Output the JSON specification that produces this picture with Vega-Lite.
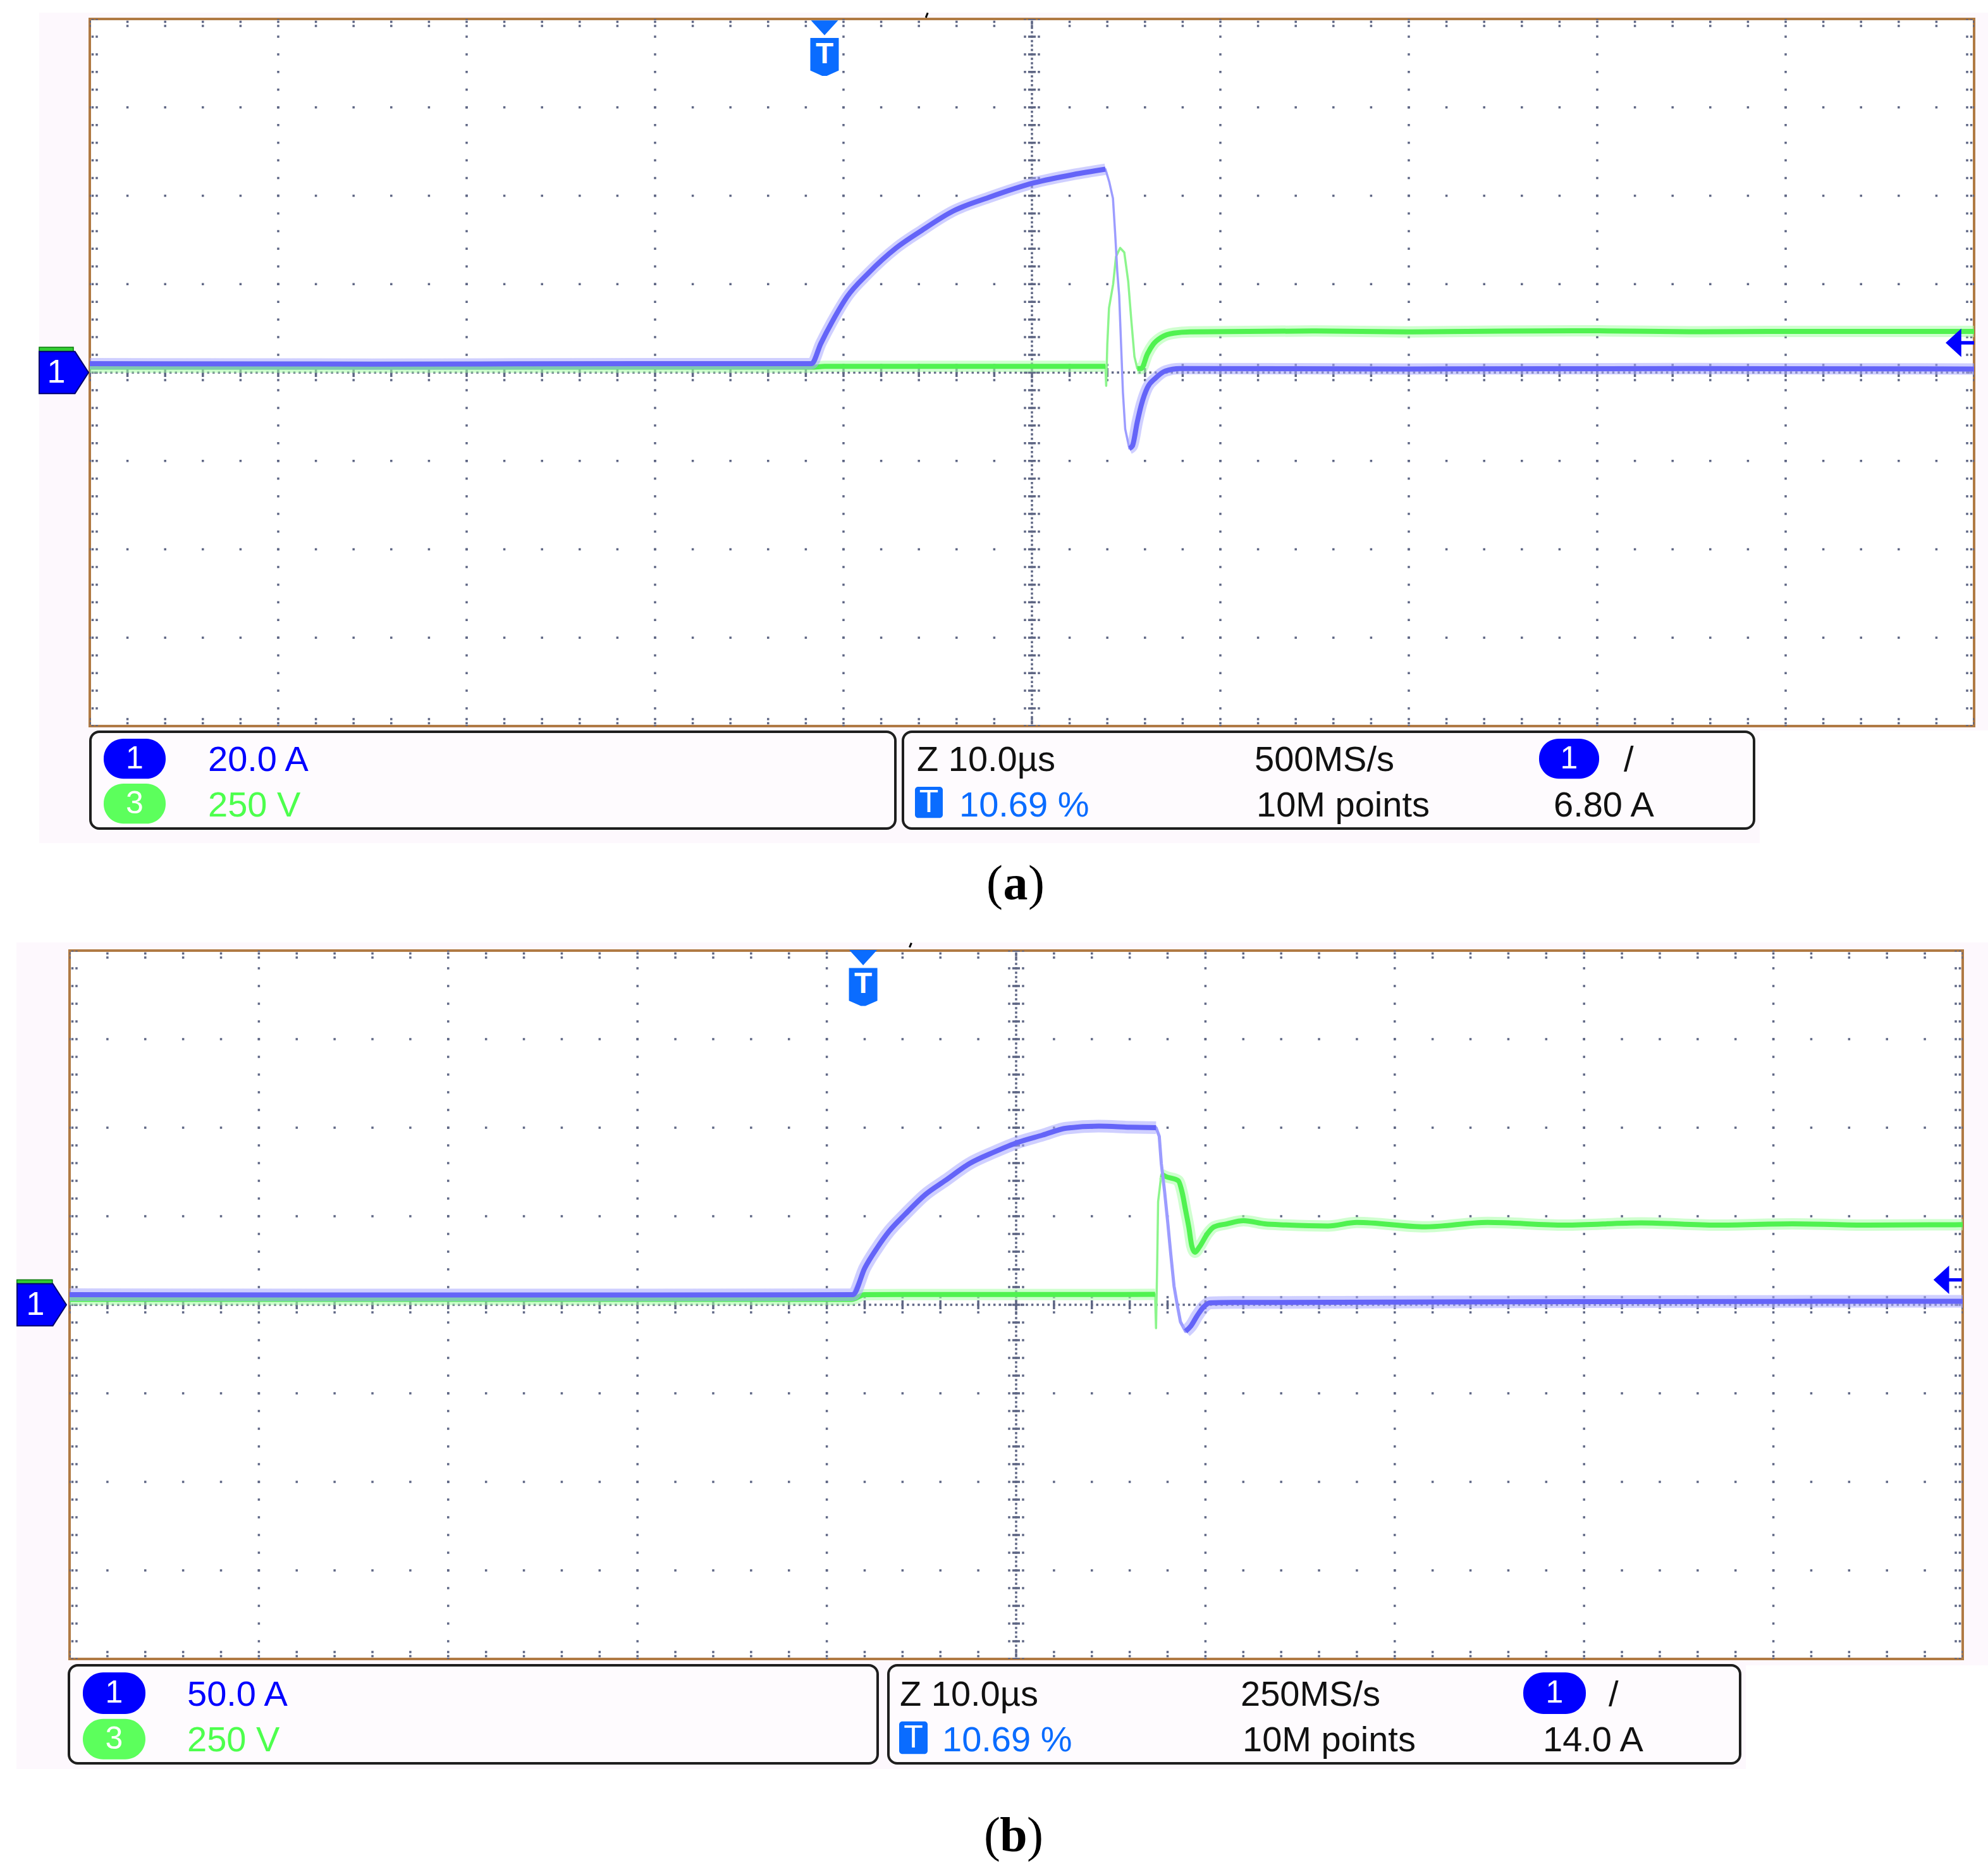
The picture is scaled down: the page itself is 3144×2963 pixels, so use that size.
{
  "$schema": "https://vega.github.io/schema/vega-lite/v6.json",
  "background": "white",
  "padding": 0,
  "spacing": 0,
  "config": {"view": {"stroke": null}, "concat": {"spacing": 0}, "line": {"interpolate": "monotone"}},
  "datasets": {
    "a_blue": [
      {"x": 0, "y": 0.10, "s": 1}, {"x": 1.5, "y": 0.095, "s": 1}, {"x": 3.0, "y": 0.10, "s": 1}, {"x": 3.83, "y": 0.10, "s": 1},
      {"x": 3.88, "y": 0.33, "s": 1}, {"x": 3.94, "y": 0.575, "s": 1}, {"x": 4.02, "y": 0.86, "s": 1}, {"x": 4.13, "y": 1.12, "s": 1},
      {"x": 4.28, "y": 1.41, "s": 1}, {"x": 4.41, "y": 1.60, "s": 1}, {"x": 4.58, "y": 1.825, "s": 1}, {"x": 4.77, "y": 1.98, "s": 1},
      {"x": 5.01, "y": 2.145, "s": 1}, {"x": 5.22, "y": 2.24, "s": 1}, {"x": 5.39, "y": 2.30, "s": 1},
      {"x": 5.41, "y": 2.16, "s": 2}, {"x": 5.43, "y": 1.97, "s": 2}, {"x": 5.442, "y": 1.56, "s": 2}, {"x": 5.453, "y": 1.14, "s": 2},
      {"x": 5.463, "y": 0.87, "s": 2}, {"x": 5.473, "y": 0.32, "s": 2}, {"x": 5.483, "y": -0.23, "s": 2}, {"x": 5.495, "y": -0.64, "s": 2},
      {"x": 5.517, "y": -0.86, "s": 3}, {"x": 5.533, "y": -0.83, "s": 3}, {"x": 5.559, "y": -0.56, "s": 3}, {"x": 5.58, "y": -0.37, "s": 3},
      {"x": 5.613, "y": -0.17, "s": 3}, {"x": 5.655, "y": -0.065, "s": 3}, {"x": 5.709, "y": 0.018, "s": 3}, {"x": 5.784, "y": 0.045, "s": 3},
      {"x": 7.0, "y": 0.04, "s": 3}, {"x": 8.5, "y": 0.045, "s": 3}, {"x": 10, "y": 0.04, "s": 3}
    ],
    "a_green": [
      {"x": 0, "y": 0.06, "s": 1}, {"x": 3.83, "y": 0.06, "s": 1}, {"x": 3.9, "y": 0.07, "s": 1}, {"x": 5.39, "y": 0.07, "s": 1},
      {"x": 5.394, "y": -0.15, "s": 2}, {"x": 5.40, "y": 0.32, "s": 2}, {"x": 5.409, "y": 0.73, "s": 2}, {"x": 5.431, "y": 1.0, "s": 2},
      {"x": 5.446, "y": 1.31, "s": 2}, {"x": 5.468, "y": 1.41, "s": 2}, {"x": 5.49, "y": 1.36, "s": 2}, {"x": 5.511, "y": 1.03, "s": 2},
      {"x": 5.527, "y": 0.6, "s": 2}, {"x": 5.544, "y": 0.18, "s": 2},
      {"x": 5.559, "y": 0.045, "s": 3}, {"x": 5.58, "y": 0.045, "s": 3}, {"x": 5.613, "y": 0.21, "s": 3}, {"x": 5.644, "y": 0.32, "s": 3},
      {"x": 5.688, "y": 0.40, "s": 3}, {"x": 5.752, "y": 0.445, "s": 3}, {"x": 5.84, "y": 0.46, "s": 3}, {"x": 6.5, "y": 0.47, "s": 3},
      {"x": 7.0, "y": 0.46, "s": 3}, {"x": 7.5, "y": 0.468, "s": 3}, {"x": 8.0, "y": 0.472, "s": 3}, {"x": 8.5, "y": 0.462, "s": 3},
      {"x": 9.0, "y": 0.466, "s": 3}, {"x": 10, "y": 0.466, "s": 3}
    ],
    "b_blue": [
      {"x": 0, "y": 0.114, "s": 1}, {"x": 2, "y": 0.11, "s": 1}, {"x": 4.137, "y": 0.114, "s": 1}, {"x": 4.201, "y": 0.417, "s": 1},
      {"x": 4.265, "y": 0.64, "s": 1}, {"x": 4.329, "y": 0.83, "s": 1}, {"x": 4.414, "y": 1.023, "s": 1}, {"x": 4.521, "y": 1.246, "s": 1},
      {"x": 4.627, "y": 1.405, "s": 1}, {"x": 4.755, "y": 1.596, "s": 1}, {"x": 4.883, "y": 1.724, "s": 1}, {"x": 5.011, "y": 1.836, "s": 1},
      {"x": 5.139, "y": 1.916, "s": 1}, {"x": 5.266, "y": 1.995, "s": 1}, {"x": 5.437, "y": 2.018, "s": 1}, {"x": 5.607, "y": 2.005, "s": 1},
      {"x": 5.739, "y": 2.0, "s": 1},
      {"x": 5.756, "y": 1.902, "s": 2}, {"x": 5.767, "y": 1.593, "s": 2}, {"x": 5.784, "y": 1.283, "s": 2}, {"x": 5.801, "y": 0.926, "s": 2},
      {"x": 5.817, "y": 0.569, "s": 2}, {"x": 5.834, "y": 0.212, "s": 2}, {"x": 5.851, "y": 0.0, "s": 2}, {"x": 5.868, "y": -0.193, "s": 2},
      {"x": 5.895, "y": -0.3, "s": 3}, {"x": 5.923, "y": -0.24, "s": 3}, {"x": 5.957, "y": -0.121, "s": 3}, {"x": 5.99, "y": -0.026, "s": 3},
      {"x": 6.023, "y": 0.021, "s": 3}, {"x": 6.146, "y": 0.026, "s": 3}, {"x": 8, "y": 0.035, "s": 3}, {"x": 10, "y": 0.04, "s": 3}
    ],
    "b_green": [
      {"x": 0, "y": 0.06, "s": 1}, {"x": 4.13, "y": 0.06, "s": 1}, {"x": 4.2, "y": 0.115, "s": 1}, {"x": 5.734, "y": 0.117, "s": 1},
      {"x": 5.739, "y": -0.264, "s": 2}, {"x": 5.745, "y": 0.45, "s": 2}, {"x": 5.75, "y": 1.164, "s": 2},
      {"x": 5.767, "y": 1.474, "s": 3}, {"x": 5.789, "y": 1.45, "s": 3}, {"x": 5.856, "y": 1.402, "s": 3}, {"x": 5.878, "y": 1.26, "s": 3},
      {"x": 5.895, "y": 1.069, "s": 3}, {"x": 5.912, "y": 0.879, "s": 3}, {"x": 5.928, "y": 0.664, "s": 3}, {"x": 5.945, "y": 0.593, "s": 3},
      {"x": 5.968, "y": 0.652, "s": 3}, {"x": 6.012, "y": 0.807, "s": 3}, {"x": 6.045, "y": 0.879, "s": 3}, {"x": 6.112, "y": 0.914, "s": 3},
      {"x": 6.201, "y": 0.95, "s": 3}, {"x": 6.313, "y": 0.914, "s": 3}, {"x": 6.424, "y": 0.902, "s": 3}, {"x": 6.647, "y": 0.89, "s": 3},
      {"x": 6.8, "y": 0.93, "s": 3}, {"x": 7.16, "y": 0.88, "s": 3}, {"x": 7.49, "y": 0.93, "s": 3}, {"x": 7.9, "y": 0.9, "s": 3},
      {"x": 8.3, "y": 0.925, "s": 3}, {"x": 8.7, "y": 0.9, "s": 3}, {"x": 9.1, "y": 0.915, "s": 3}, {"x": 9.5, "y": 0.9, "s": 3},
      {"x": 10, "y": 0.905, "s": 3}
    ]
  },
  "vconcat": [
    {
      "width": 3144,
      "height": 1450,
      "encoding": {
        "x": {"field": "x", "type": "quantitative", "scale": {"domain": [-0.47651, 10.073826], "nice": false, "zero": false}, "axis": null},
        "y": {"field": "y", "type": "quantitative", "scale": {"domain": [-6.161002, 4.214669], "nice": false, "zero": false}, "axis": null}
      },
      "layer": [
        {"data": {"values": [{"x": -0.2685, "x2": 10.0738, "y": 4.0716, "y2": -4.05}, {"x": -0.2685, "x2": 8.8624, "y": -4.05, "y2": -5.3238}]},
         "mark": {"type": "rect", "color": "#fdf8fd"}, "encoding": {"x2": {"field": "x2"}, "y2": {"field": "y2"}}},
        {"data": {"values": [{"x": 0.0034, "x2": 4.2752, "y": -4.0644, "y2": -5.1592}, {"x": 4.3154, "x2": 8.8322, "y": -4.0644, "y2": -5.1592}]},
         "mark": {"type": "rect", "fill": "#fefbfe", "stroke": "#1e1e1e", "strokeWidth": 4, "cornerRadius": 14}, "encoding": {"x2": {"field": "x2"}, "y2": {"field": "y2"}}},
        {"data": {"values": [{"x": 0, "x2": 10, "y": -4, "y2": 4}]},
         "mark": {"type": "rect", "fill": "white", "stroke": "#b07a44", "strokeWidth": 4}, "encoding": {"x2": {"field": "x2"}, "y2": {"field": "y2"}}},
        {"data": {"values": [
          {"x": 1, "y": -4, "y2": 4}, {"x": 2, "y": -4, "y2": 4}, {"x": 3, "y": -4, "y2": 4}, {"x": 4, "y": -4, "y2": 4},
          {"x": 6, "y": -4, "y2": 4}, {"x": 7, "y": -4, "y2": 4}, {"x": 8, "y": -4, "y2": 4}, {"x": 9, "y": -4, "y2": 4},
          {"x": 4.96309, "y": -4, "y2": 4}, {"x": 5.03691, "y": -4, "y2": 4},
          {"x": 0.0151, "y": -4, "y2": 4}, {"x": 0.0369, "y": -4, "y2": 4}, {"x": 9.9849, "y": -4, "y2": 4}, {"x": 9.9631, "y": -4, "y2": 4}]},
         "mark": {"type": "rule", "color": "#5e6684", "strokeWidth": 3.5, "strokeDash": [3.5, 24.45], "strokeDashOffset": 1.75},
         "encoding": {"y2": {"field": "y2"}}},
        {"data": {"values": [
          {"x": 0, "x2": 10, "y": -3}, {"x": 0, "x2": 10, "y": -2}, {"x": 0, "x2": 10, "y": -1},
          {"x": 0, "x2": 10, "y": 1}, {"x": 0, "x2": 10, "y": 2}, {"x": 0, "x2": 10, "y": 3},
          {"x": 0, "x2": 10, "y": 0.0859}, {"x": 0, "x2": 10, "y": -0.0859},
          {"x": 0, "x2": 10, "y": 3.9678}, {"x": 0, "x2": 10, "y": 3.9213}, {"x": 0, "x2": 10, "y": -3.9678}, {"x": 0, "x2": 10, "y": -3.9213}]},
         "mark": {"type": "rule", "color": "#5e6684", "strokeWidth": 3.5, "strokeDash": [3.5, 56.1], "strokeDashOffset": 1.75},
         "encoding": {"x2": {"field": "x2"}}},
        {"data": {"values": [{"x": 5, "y": -4, "y2": 4}]},
         "mark": {"type": "rule", "color": "#5e6684", "strokeWidth": 3.5, "strokeDash": [3.5, 3.4875], "strokeDashOffset": 1.75},
         "encoding": {"y2": {"field": "y2"}}},
        {"data": {"values": [{"x": 5, "y": -4, "y2": 4}]},
         "mark": {"type": "rule", "color": "#5e6684", "strokeWidth": 12, "strokeDash": [3.5, 24.45], "strokeDashOffset": 1.75},
         "encoding": {"y2": {"field": "y2"}}},
        {"data": {"values": [{"x": 0, "x2": 10, "y": 0}]},
         "mark": {"type": "rule", "color": "#5e6684", "strokeWidth": 3.5, "strokeDash": [3.5, 5.014], "strokeDashOffset": 1.75},
         "encoding": {"x2": {"field": "x2"}}},
        {"data": {"values": [{"x": 0, "x2": 10, "y": 0}]},
         "mark": {"type": "rule", "color": "#5e6684", "strokeWidth": 14, "strokeDash": [3.5, 56.1], "strokeDashOffset": 1.75},
         "encoding": {"x2": {"field": "x2"}}},
        {"data": {"name": "a_green"}, "mark": {"type": "line", "color": "#8cf58c", "strokeWidth": 3.5, "strokeJoin": "round", "interpolate": "linear"}, "encoding": {}},
        {"data": {"name": "a_green"}, "transform": [{"filter": "datum.s != 2"}],
         "mark": {"type": "line", "color": "#a8ffa8", "strokeWidth": 18, "opacity": 0.55, "strokeJoin": "round"}, "encoding": {"detail": {"field": "s"}}},
        {"data": {"name": "a_green"}, "transform": [{"filter": "datum.s != 2"}],
         "mark": {"type": "line", "color": "#50f250", "strokeWidth": 8, "strokeJoin": "round"}, "encoding": {"detail": {"field": "s"}}},
        {"data": {"name": "a_blue"}, "mark": {"type": "line", "color": "#9c9cff", "strokeWidth": 3.5, "strokeJoin": "round", "interpolate": "linear"}, "encoding": {}},
        {"data": {"name": "a_blue"}, "transform": [{"filter": "datum.s != 2"}],
         "mark": {"type": "line", "color": "#a8a8ff", "strokeWidth": 18, "opacity": 0.55, "strokeJoin": "round"}, "encoding": {"detail": {"field": "s"}}},
        {"data": {"name": "a_blue"}, "transform": [{"filter": "datum.s != 2"}],
         "mark": {"type": "line", "color": "#6464f8", "strokeWidth": 8, "strokeJoin": "round"}, "encoding": {"detail": {"field": "s"}}},
        {"data": {"values": [{"x": -0.2685, "x2": -0.0872, "y": 0.2862, "y2": 0.2361}]},
         "mark": {"type": "rect", "fill": "#33cc33", "stroke": "#0a7a0a", "strokeWidth": 1.5}, "encoding": {"x2": {"field": "x2"}, "y2": {"field": "y2"}}},
        {"data": {"values": [{"x": -0.1376, "y": 0}]},
         "mark": {"type": "point", "shape": "M-1,-0.85 L0.45,-0.85 L1,0 L0.45,0.85 L-1,0.85 Z", "size": 6084, "filled": true, "fill": "#0000ff", "stroke": "#00006e", "strokeWidth": 2, "opacity": 1}},
        {"data": {"values": [{"x": -0.1779, "y": 0, "t": "1"}]},
         "mark": {"type": "text", "font": "Liberation Sans", "fontSize": 52, "color": "white", "align": "center", "baseline": "middle"}, "encoding": {"text": {"field": "t"}}},
        {"data": {"values": [{"x": 3.8993, "y": 3.8998}]},
         "mark": {"type": "point", "shape": "M-1,-0.55 L1,-0.55 L0,0.55 Z", "size": 1849, "filled": true, "fill": "#0a6cff", "opacity": 1}},
        {"data": {"values": [{"x": 3.8993, "y": 3.5707}]},
         "mark": {"type": "point", "shape": "M-0.75,-1 L0.75,-1 L0.75,0.72 L0.12,1 L-0.12,1 L-0.75,0.72 Z", "size": 3600, "filled": true, "fill": "#0a6cff", "opacity": 1}},
        {"data": {"values": [{"x": 3.8993, "y": 3.6, "t": "T"}]},
         "mark": {"type": "text", "font": "Liberation Sans", "fontSize": 46, "fontWeight": "bold", "color": "white", "align": "center", "baseline": "middle"}, "encoding": {"text": {"field": "t"}}},
        {"data": {"values": [{"x": 9.9245, "y": 0.3363}]},
         "mark": {"type": "point", "shape": "M-1,0 L0.1,-1 L0.1,-0.12 L1,-0.12 L1,0.12 L0.1,0.12 L0.1,1 Z", "size": 2025, "filled": true, "fill": "#0000ff", "opacity": 1}},
        {"data": {"values": [{"x": 4.437, "x2": 4.447, "y": 4.015, "y2": 4.07}]},
         "mark": {"type": "rule", "color": "black", "strokeWidth": 3}, "encoding": {"x2": {"field": "x2"}, "y2": {"field": "y2"}}},
        {"data": {"values": [{"x": 0.0738, "x2": 0.4027, "y": -4.1431, "y2": -4.5966}, {"x": 7.6913, "x2": 8.0101, "y": -4.1431, "y2": -4.5966}]},
         "mark": {"type": "rect", "fill": "#0000ff", "cornerRadius": 31}, "encoding": {"x2": {"field": "x2"}, "y2": {"field": "y2"}}},
        {"data": {"values": [{"x": 0.0738, "x2": 0.4027, "y": -4.6512, "y2": -5.1041}]},
         "mark": {"type": "rect", "fill": "#5cff5c", "cornerRadius": 31}, "encoding": {"x2": {"field": "x2"}, "y2": {"field": "y2"}}},
        {"data": {"values": [{"x": 4.3792, "x2": 4.5268, "y": -4.687, "y2": -5.04}]},
         "mark": {"type": "rect", "fill": "#0a6cff", "cornerRadius": 5}, "encoding": {"x2": {"field": "x2"}, "y2": {"field": "y2"}}},
        {"data": {"values": [{"x": 0.2383, "y": -4.37, "t": "1"}, {"x": 0.2383, "y": -4.878, "t": "3"}, {"x": 7.8507, "y": -4.37, "t": "1"}, {"x": 4.453, "y": -4.864, "t": "T"}]},
         "mark": {"type": "text", "font": "Liberation Sans", "fontSize": 50, "color": "white", "align": "center", "baseline": "middle"}, "encoding": {"text": {"field": "t"}}},
        {"data": {"values": [{"x": 0.6275, "y": -4.508, "t": "20.0 A"}]},
         "mark": {"type": "text", "font": "Liberation Sans", "fontSize": 56, "color": "#0000ff", "align": "left", "baseline": "alphabetic"}, "encoding": {"text": {"field": "t"}}},
        {"data": {"values": [{"x": 0.6275, "y": -5.02, "t": "250 V"}]},
         "mark": {"type": "text", "font": "Liberation Sans", "fontSize": 56, "color": "#4dff4d", "align": "left", "baseline": "alphabetic"}, "encoding": {"text": {"field": "t"}}},
        {"data": {"values": [{"x": 4.6141, "y": -5.02, "t": "10.69 %"}]},
         "mark": {"type": "text", "font": "Liberation Sans", "fontSize": 56, "color": "#0a6cff", "align": "left", "baseline": "alphabetic"}, "encoding": {"text": {"field": "t"}}},
        {"data": {"values": [
          {"x": 4.3893, "y": -4.508, "t": "Z 10.0µs"}, {"x": 6.1812, "y": -4.508, "t": "500MS/s"}, {"x": 8.141, "y": -4.508, "t": "/"},
          {"x": 6.1913, "y": -5.02, "t": "10M points"}, {"x": 7.7685, "y": -5.02, "t": "6.80 A"}]},
         "mark": {"type": "text", "font": "Liberation Sans", "fontSize": 56, "color": "#111111", "align": "left", "baseline": "alphabetic"}, "encoding": {"text": {"field": "t"}}},
        {"data": {"values": [{"x": 4.9128, "y": -5.9606, "t": "("}]},
         "mark": {"type": "text", "font": "Liberation Serif", "fontSize": 78, "color": "black", "align": "right", "dx": -20, "baseline": "alphabetic"}, "encoding": {"text": {"field": "t"}}},
        {"data": {"values": [{"x": 4.9128, "y": -5.9606, "t": "a"}]},
         "mark": {"type": "text", "font": "Liberation Serif", "fontSize": 78, "fontWeight": "bold", "color": "black", "align": "center", "baseline": "alphabetic"}, "encoding": {"text": {"field": "t"}}},
        {"data": {"values": [{"x": 4.9128, "y": -5.9606, "t": ")"}]},
         "mark": {"type": "text", "font": "Liberation Serif", "fontSize": 78, "color": "black", "align": "left", "dx": 20, "baseline": "alphabetic"}, "encoding": {"text": {"field": "t"}}}
      ]
    },
    {
      "width": 3144,
      "height": 1513,
      "encoding": {
        "x": {"field": "x", "type": "quantitative", "scale": {"domain": [-0.367402, 10.133601], "nice": false, "zero": false}, "axis": null},
        "y": {"field": "y", "type": "quantitative", "scale": {"domain": [-6.428571, 4.378571], "nice": false, "zero": false}, "axis": null}
      },
      "layer": [
        {"data": {"values": [{"x": -0.2806, "x2": 10.1336, "y": 4.0929, "y2": -4.0714}, {"x": -0.2806, "x2": 8.8544, "y": -4.0714, "y2": -5.2429}]},
         "mark": {"type": "rect", "color": "#fdf8fd"}, "encoding": {"x2": {"field": "x2"}, "y2": {"field": "y2"}}},
        {"data": {"values": [{"x": -0.0033, "x2": 4.2685, "y": -4.0714, "y2": -5.1786}, {"x": 4.3253, "x2": 8.8243, "y": -4.0714, "y2": -5.1786}]},
         "mark": {"type": "rect", "fill": "#fefbfe", "stroke": "#1e1e1e", "strokeWidth": 4, "cornerRadius": 14}, "encoding": {"x2": {"field": "x2"}, "y2": {"field": "y2"}}},
        {"data": {"values": [{"x": 0, "x2": 10, "y": -4, "y2": 4}]},
         "mark": {"type": "rect", "fill": "white", "stroke": "#b07a44", "strokeWidth": 4}, "encoding": {"x2": {"field": "x2"}, "y2": {"field": "y2"}}},
        {"data": {"values": [
          {"x": 1, "y": -4, "y2": 4}, {"x": 2, "y": -4, "y2": 4}, {"x": 3, "y": -4, "y2": 4}, {"x": 4, "y": -4, "y2": 4},
          {"x": 6, "y": -4, "y2": 4}, {"x": 7, "y": -4, "y2": 4}, {"x": 8, "y": -4, "y2": 4}, {"x": 9, "y": -4, "y2": 4},
          {"x": 4.9633, "y": -4, "y2": 4}, {"x": 5.0367, "y": -4, "y2": 4},
          {"x": 0.015, "y": -4, "y2": 4}, {"x": 0.0367, "y": -4, "y2": 4}, {"x": 9.985, "y": -4, "y2": 4}, {"x": 9.9633, "y": -4, "y2": 4}]},
         "mark": {"type": "rule", "color": "#5e6684", "strokeWidth": 3.5, "strokeDash": [3.5, 24.5], "strokeDashOffset": 1.75},
         "encoding": {"y2": {"field": "y2"}}},
        {"data": {"values": [
          {"x": 0, "x2": 10, "y": -3}, {"x": 0, "x2": 10, "y": -2}, {"x": 0, "x2": 10, "y": -1},
          {"x": 0, "x2": 10, "y": 1}, {"x": 0, "x2": 10, "y": 2}, {"x": 0, "x2": 10, "y": 3},
          {"x": 0, "x2": 10, "y": 0.0857}, {"x": 0, "x2": 10, "y": -0.0857},
          {"x": 0, "x2": 10, "y": 3.9679}, {"x": 0, "x2": 10, "y": 3.9214}, {"x": 0, "x2": 10, "y": -3.9679}, {"x": 0, "x2": 10, "y": -3.9214}]},
         "mark": {"type": "rule", "color": "#5e6684", "strokeWidth": 3.5, "strokeDash": [3.5, 56.38], "strokeDashOffset": 1.75},
         "encoding": {"x2": {"field": "x2"}}},
        {"data": {"values": [{"x": 5, "y": -4, "y2": 4}]},
         "mark": {"type": "rule", "color": "#5e6684", "strokeWidth": 3.5, "strokeDash": [3.5, 3.5], "strokeDashOffset": 1.75},
         "encoding": {"y2": {"field": "y2"}}},
        {"data": {"values": [{"x": 5, "y": -4, "y2": 4}]},
         "mark": {"type": "rule", "color": "#5e6684", "strokeWidth": 12, "strokeDash": [3.5, 24.5], "strokeDashOffset": 1.75},
         "encoding": {"y2": {"field": "y2"}}},
        {"data": {"values": [{"x": 0, "x2": 10, "y": 0}]},
         "mark": {"type": "rule", "color": "#5e6684", "strokeWidth": 3.5, "strokeDash": [3.5, 5.054], "strokeDashOffset": 1.75},
         "encoding": {"x2": {"field": "x2"}}},
        {"data": {"values": [{"x": 0, "x2": 10, "y": 0}]},
         "mark": {"type": "rule", "color": "#5e6684", "strokeWidth": 14, "strokeDash": [3.5, 56.38], "strokeDashOffset": 1.75},
         "encoding": {"x2": {"field": "x2"}}},
        {"data": {"name": "b_green"}, "mark": {"type": "line", "color": "#8cf58c", "strokeWidth": 3.5, "strokeJoin": "round", "interpolate": "linear"}, "encoding": {}},
        {"data": {"name": "b_green"}, "transform": [{"filter": "datum.s != 2"}],
         "mark": {"type": "line", "color": "#a8ffa8", "strokeWidth": 18, "opacity": 0.55, "strokeJoin": "round"}, "encoding": {"detail": {"field": "s"}}},
        {"data": {"name": "b_green"}, "transform": [{"filter": "datum.s != 2"}],
         "mark": {"type": "line", "color": "#50f250", "strokeWidth": 8, "strokeJoin": "round"}, "encoding": {"detail": {"field": "s"}}},
        {"data": {"name": "b_blue"}, "mark": {"type": "line", "color": "#9c9cff", "strokeWidth": 5, "strokeJoin": "round", "interpolate": "linear"}, "encoding": {}},
        {"data": {"name": "b_blue"}, "transform": [{"filter": "datum.s != 2"}],
         "mark": {"type": "line", "color": "#a8a8ff", "strokeWidth": 20, "opacity": 0.55, "strokeJoin": "round"}, "encoding": {"detail": {"field": "s"}}},
        {"data": {"name": "b_blue"}, "transform": [{"filter": "datum.s != 2"}],
         "mark": {"type": "line", "color": "#6464f8", "strokeWidth": 8, "strokeJoin": "round"}, "encoding": {"detail": {"field": "s"}}},
        {"data": {"values": [{"x": -0.2782, "x2": -0.0908, "y": 0.2829, "y2": 0.2321}]},
         "mark": {"type": "rect", "fill": "#33cc33", "stroke": "#0a7a0a", "strokeWidth": 1.5}, "encoding": {"x2": {"field": "x2"}, "y2": {"field": "y2"}}},
        {"data": {"values": [{"x": -0.147, "y": 0}]},
         "mark": {"type": "point", "shape": "M-1,-0.85 L0.45,-0.85 L1,0 L0.45,0.85 L-1,0.85 Z", "size": 6084, "filled": true, "fill": "#0000ff", "stroke": "#00006e", "strokeWidth": 2, "opacity": 1}},
        {"data": {"values": [{"x": -0.1804, "y": 0, "t": "1"}]},
         "mark": {"type": "text", "font": "Liberation Sans", "fontSize": 52, "color": "white", "align": "center", "baseline": "middle"}, "encoding": {"text": {"field": "t"}}},
        {"data": {"values": [{"x": 4.192, "y": 3.921}]},
         "mark": {"type": "point", "shape": "M-1,-0.55 L1,-0.55 L0,0.55 Z", "size": 1936, "filled": true, "fill": "#0a6cff", "opacity": 1}},
        {"data": {"values": [{"x": 4.192, "y": 3.589}]},
         "mark": {"type": "point", "shape": "M-0.75,-1 L0.75,-1 L0.75,0.72 L0.12,1 L-0.12,1 L-0.75,0.72 Z", "size": 3600, "filled": true, "fill": "#0a6cff", "opacity": 1}},
        {"data": {"values": [{"x": 4.192, "y": 3.62, "t": "T"}]},
         "mark": {"type": "text", "font": "Liberation Sans", "fontSize": 46, "fontWeight": "bold", "color": "white", "align": "center", "baseline": "middle"}, "encoding": {"text": {"field": "t"}}},
        {"data": {"values": [{"x": 9.9208, "y": 0.2814}]},
         "mark": {"type": "point", "shape": "M-1,0 L0.1,-1 L0.1,-0.12 L1,-0.12 L1,0.12 L0.1,0.12 L0.1,1 Z", "size": 2025, "filled": true, "fill": "#0000ff", "opacity": 1}},
        {"data": {"values": [{"x": 4.437, "x2": 4.447, "y": 4.036, "y2": 4.086}]},
         "mark": {"type": "rule", "color": "black", "strokeWidth": 3}, "encoding": {"x2": {"field": "x2"}, "y2": {"field": "y2"}}},
        {"data": {"values": [{"x": 0.0701, "x2": 0.4008, "y": -4.152, "y2": -4.621}, {"x": 7.6787, "x2": 8.0094, "y": -4.152, "y2": -4.621}]},
         "mark": {"type": "rect", "fill": "#0000ff", "cornerRadius": 32}, "encoding": {"x2": {"field": "x2"}, "y2": {"field": "y2"}}},
        {"data": {"values": [{"x": 0.0701, "x2": 0.4008, "y": -4.676, "y2": -5.134}]},
         "mark": {"type": "rect", "fill": "#5cff5c", "cornerRadius": 32}, "encoding": {"x2": {"field": "x2"}, "y2": {"field": "y2"}}},
        {"data": {"values": [{"x": 4.3821, "x2": 4.5324, "y": -4.705, "y2": -5.074}]},
         "mark": {"type": "rect", "fill": "#0a6cff", "cornerRadius": 5}, "encoding": {"x2": {"field": "x2"}, "y2": {"field": "y2"}}},
        {"data": {"values": [{"x": 0.2355, "y": -4.3865, "t": "1"}, {"x": 0.2355, "y": -4.905, "t": "3"}, {"x": 7.844, "y": -4.3865, "t": "1"}, {"x": 4.457, "y": -4.89, "t": "T"}]},
         "mark": {"type": "text", "font": "Liberation Sans", "fontSize": 50, "color": "white", "align": "center", "baseline": "middle"}, "encoding": {"text": {"field": "t"}}},
        {"data": {"values": [{"x": 0.6212, "y": -4.531, "t": "50.0 A"}]},
         "mark": {"type": "text", "font": "Liberation Sans", "fontSize": 56, "color": "#0000ff", "align": "left", "baseline": "alphabetic"}, "encoding": {"text": {"field": "t"}}},
        {"data": {"values": [{"x": 0.6212, "y": -5.045, "t": "250 V"}]},
         "mark": {"type": "text", "font": "Liberation Sans", "fontSize": 56, "color": "#4dff4d", "align": "left", "baseline": "alphabetic"}, "encoding": {"text": {"field": "t"}}},
        {"data": {"values": [{"x": 4.6092, "y": -5.045, "t": "10.69 %"}]},
         "mark": {"type": "text", "font": "Liberation Sans", "fontSize": 56, "color": "#0a6cff", "align": "left", "baseline": "alphabetic"}, "encoding": {"text": {"field": "t"}}},
        {"data": {"values": [
          {"x": 4.3854, "y": -4.531, "t": "Z 10.0µs"}, {"x": 6.1857, "y": -4.531, "t": "250MS/s"}, {"x": 8.1296, "y": -4.531, "t": "/"},
          {"x": 6.1957, "y": -5.045, "t": "10M points"}, {"x": 7.7823, "y": -5.045, "t": "14.0 A"}]},
         "mark": {"type": "text", "font": "Liberation Sans", "fontSize": 56, "color": "#111111", "align": "left", "baseline": "alphabetic"}, "encoding": {"text": {"field": "t"}}},
        {"data": {"values": [{"x": 4.9866, "y": -6.171, "t": "("}]},
         "mark": {"type": "text", "font": "Liberation Serif", "fontSize": 78, "color": "black", "align": "right", "dx": -21, "baseline": "alphabetic"}, "encoding": {"text": {"field": "t"}}},
        {"data": {"values": [{"x": 4.9866, "y": -6.171, "t": "b"}]},
         "mark": {"type": "text", "font": "Liberation Serif", "fontSize": 78, "fontWeight": "bold", "color": "black", "align": "center", "baseline": "alphabetic"}, "encoding": {"text": {"field": "t"}}},
        {"data": {"values": [{"x": 4.9866, "y": -6.171, "t": ")"}]},
         "mark": {"type": "text", "font": "Liberation Serif", "fontSize": 78, "color": "black", "align": "left", "dx": 21, "baseline": "alphabetic"}, "encoding": {"text": {"field": "t"}}}
      ]
    }
  ]
}
